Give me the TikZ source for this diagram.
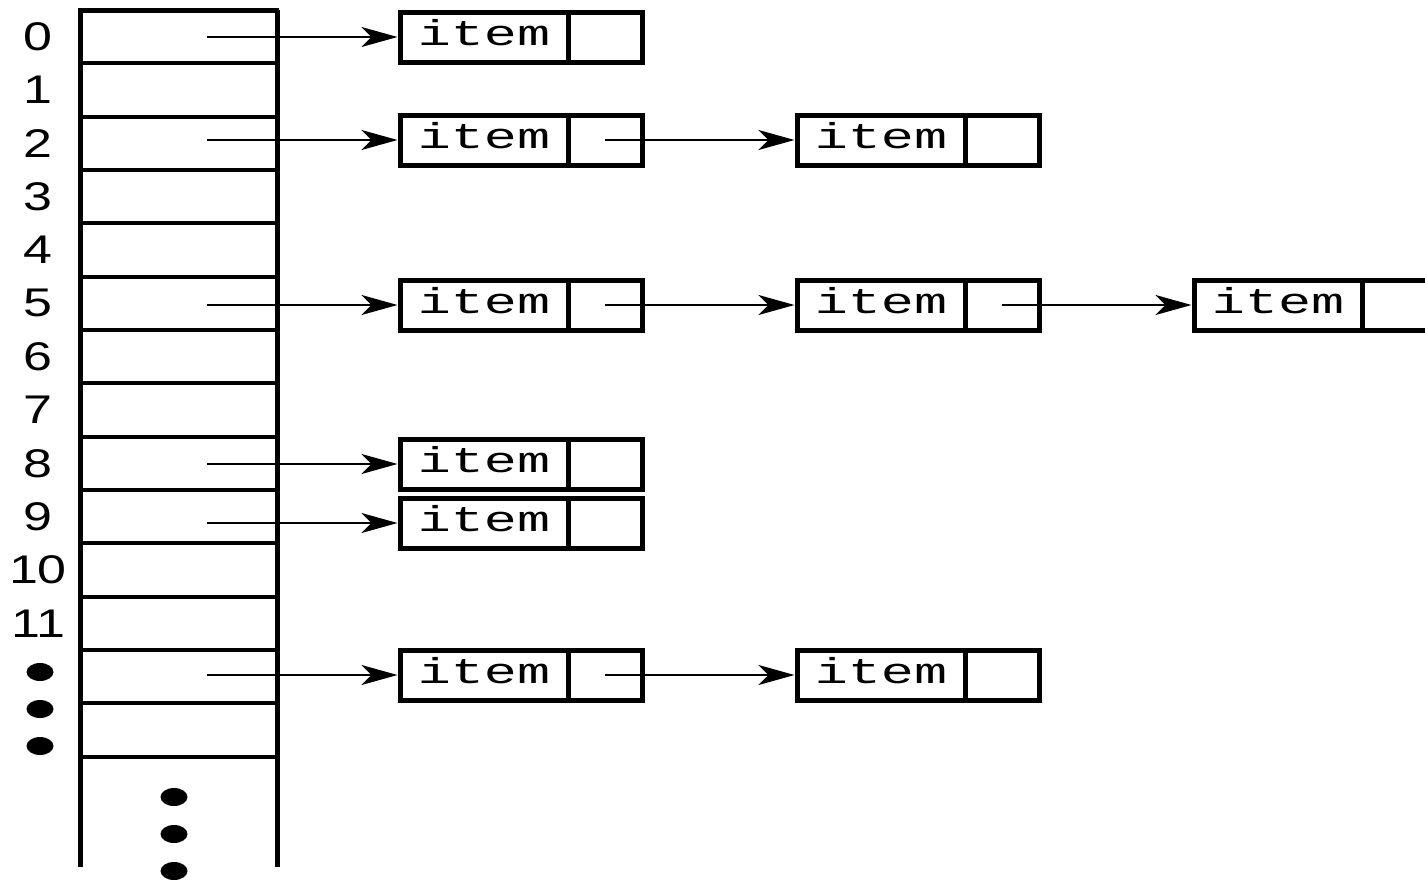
\documentclass[tikz,border=0pt]{standalone}
\usepackage{fontspec}
\setmainfont{Liberation Sans}
\newfontfamily\itemfont{Liberation Mono}
\usetikzlibrary{arrows.meta}
\tikzset{
  slotcell/.style={draw, line width=4pt, minimum width=197pt, minimum height=53.33pt, inner sep=0pt, outer sep=0pt},
  itemcell/.style={draw, line width=5pt, minimum width=168pt, minimum height=50pt, inner sep=0pt,
     font=\itemfont\fontsize{36}{36}\selectfont, text height=24pt, text depth=8pt},
  ptrcell/.style={draw, line width=5pt, minimum width=74pt, minimum height=50pt, inner sep=0pt},
  idx/.style={font=\fontsize{40}{40}\selectfont, inner sep=0pt},
  ptr/.style={line width=2.2pt, -{Stealth[length=36pt, width=20pt, inset=10pt]}},
  bigdot/.style={ellipse, fill=black, minimum width=27pt, minimum height=18pt, inner sep=0pt},
  rail/.style={line width=5pt}
}
\newcommand{\itm}{\scalebox{1.53}[1]{item}}
\newcommand{\idxtext}[1]{\scalebox{1.3}[1]{#1}}
\usetikzlibrary{shapes.geometric}
\begin{document}
\begin{tikzpicture}[x=1pt,y=-1pt]
\useasboundingbox (0,0) rectangle (1425,879);
% array slots
\foreach \k in {0,...,13} {
  \node[slotcell] (c\k) at (178.5, {36.67+53.33*\k}) {};
}
\draw[rail] (c0.north west) -- (80,867);
\draw[rail] (c0.north east) -- (277,867);
\draw[rail] (c0.north west) -- (c0.north east);
% index labels
\foreach \k in {0,...,11} {
  \node[idx] (l\k) at (38, {36.67+53.33*\k}) {\idxtext{\k}};
}
\node[bigdot] (ld1) at (40,672) {};
\node[bigdot] (ld2) at (40,709) {};
\node[bigdot] (ld3) at (40,746) {};
\node[bigdot] (bd1) at (174,797) {};
\node[bigdot] (bd2) at (174,834) {};
\node[bigdot] (bd3) at (174,871) {};
% row 0
\node[itemcell] (i0a) at (484,37) {\itm};
\node[ptrcell] (p0a) at (605,37) {};
\coordinate (s0) at (207,37);
\draw[ptr] (s0) -- (i0a);
% row 2
\node[itemcell] (i2a) at (484,140) {\itm};
\node[ptrcell] (p2a) at (605,140) {};
\node[itemcell] (i2b) at (881,140) {\itm};
\node[ptrcell] (p2b) at (1002,140) {};
\coordinate (s2) at (207,140);
\draw[ptr] (s2) -- (i2a);
\draw[ptr] (p2a.center) -- (i2b);
% row 5
\node[itemcell] (i5a) at (484,305) {\itm};
\node[ptrcell] (p5a) at (605,305) {};
\node[itemcell] (i5b) at (881,305) {\itm};
\node[ptrcell] (p5b) at (1002,305) {};
\node[itemcell] (i5c) at (1278,305) {\itm};
\node[ptrcell] (p5c) at (1399,305) {};
\coordinate (s5) at (207,305);
\draw[ptr] (s5) -- (i5a);
\draw[ptr] (p5a.center) -- (i5b);
\draw[ptr] (p5b.center) -- (i5c);
% row 8
\node[itemcell] (i8a) at (484,464) {\itm};
\node[ptrcell] (p8a) at (605,464) {};
\coordinate (s8) at (207,464);
\draw[ptr] (s8) -- (i8a);
% row 9
\node[itemcell] (i9a) at (484,523) {\itm};
\node[ptrcell] (p9a) at (605,523) {};
\coordinate (s9) at (207,523);
\draw[ptr] (s9) -- (i9a);
% row 12
\node[itemcell] (i12a) at (484,675) {\itm};
\node[ptrcell] (p12a) at (605,675) {};
\node[itemcell] (i12b) at (881,675) {\itm};
\node[ptrcell] (p12b) at (1002,675) {};
\coordinate (s12) at (207,675);
\draw[ptr] (s12) -- (i12a);
\draw[ptr] (p12a.center) -- (i12b);
\end{tikzpicture}
\end{document}
